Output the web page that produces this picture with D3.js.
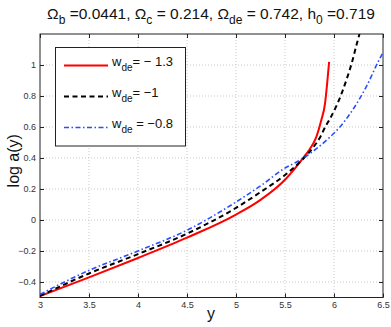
<html>
<script src="https://d3js.org/d3.v7.min.js"></script>
<body style="margin:0;background:#fff">
<svg id="plot"></svg>
<script>
// tick labels
var xTicks = [3, 3.5, 4, 4.5, 5, 5.5, 6, 6.5];
var yTicks = [-0.4, -0.2, 0, 0.2, 0.4, 0.6, 0.8, 1];

// w_de = -1.3
var redX = [3, 3.5, 4, 4.5, 5, 5.25, 5.5, 5.6, 5.68, 5.745, 5.82, 5.87, 5.908, 5.93, 5.95];
var redY = [-0.49, -0.37, -0.245, -0.114, 0.035, 0.13, 0.26, 0.332, 0.396, 0.45, 0.536, 0.643, 0.75, 0.88, 1.02];
// w_de = -1
var blackX = [3, 3.5, 4, 4.5, 5, 5.25, 5.5, 5.67, 5.79, 5.86, 5.91, 5.96, 6.02, 6.08, 6.13, 6.18, 6.23, 6.26];
var blackY = [-0.49, -0.345, -0.22, -0.088, 0.078, 0.18, 0.29, 0.385, 0.47, 0.536, 0.6, 0.655, 0.73, 0.82, 0.91, 1.01, 1.13, 1.2];
// w_de = -0.8
var blueX = [3, 3.5, 4, 4.5, 5, 5.25, 5.5, 5.65, 5.8, 5.95, 6.06, 6.19, 6.33, 6.45, 6.5];
var blueY = [-0.48, -0.325, -0.2, -0.066, 0.116, 0.22, 0.335, 0.385, 0.45, 0.53, 0.6, 0.71, 0.86, 1.02, 1.08];

var series = [
  {x: redX, y: redY, color: "#ff0000", dash: null, width: 2, label: "= \u2212 1.3", gap: ""},
  {x: blackX, y: blackY, color: "#000000", dash: "5,3.5", width: 2, label: "= \u22121", gap: ""},
  {x: blueX, y: blueY, color: "#2a4dff", dash: "5,2.5,1.5,2.5", width: 1.6, label: "= \u22120.8", gap: " "}
];

var screen = {width: 391, height: 327};
var margins = {top: 34, left: 40, right: 8, bottom: 30};
var graph = {width: 343, height: 263.5};

var svg = d3.select("#plot")
  .attr("width", screen.width)
  .attr("height", screen.height)
  .style("font-family", "'Liberation Sans', Arial, sans-serif");

var xScale = d3.scaleLinear().domain([3, 6.5]).range([0, graph.width]);
var yScale = d3.scaleLinear().domain([-0.5, 1.2]).range([graph.height, 0]);

var g = svg.append("g")
  .attr("transform", "translate(" + margins.left + "," + margins.top + ")");

g.append("clipPath").attr("id", "clip")
  .append("rect").attr("width", graph.width).attr("height", graph.height);

// grid
g.append("g").selectAll("line").data(xTicks.slice(1, -1)).enter().append("line")
  .attr("x1", d => xScale(d)).attr("x2", d => xScale(d))
  .attr("y1", 0).attr("y2", graph.height)
  .attr("stroke", "#bbb").attr("stroke-width", 0.8).attr("stroke-dasharray", "1,2");
g.append("g").selectAll("line").data(yTicks).enter().append("line")
  .attr("y1", d => yScale(d)).attr("y2", d => yScale(d))
  .attr("x1", 0).attr("x2", graph.width)
  .attr("stroke", "#bbb").attr("stroke-width", 0.8).attr("stroke-dasharray", "1,2");

// axes, matlab style ticks inside on all sides
var axisStyle = function(sel) {
  sel.selectAll("path").remove();
  sel.selectAll("line").attr("stroke", "#222");
  sel.selectAll("text").attr("fill", "#333").style("font-size", "9px");
};
g.append("g").attr("transform", "translate(0," + graph.height + ")")
  .call(d3.axisBottom(xScale).tickValues(xTicks).tickSizeInner(-4).tickPadding(4).tickFormat(d3.format("")))
  .call(axisStyle);
g.append("g")
  .call(d3.axisLeft(yScale).tickValues(yTicks).tickSizeInner(-4).tickPadding(4)
    .tickFormat(d => d < 0 ? "\u2212" + Math.abs(d) : d))
  .call(axisStyle);
g.append("g")
  .call(d3.axisTop(xScale).tickValues(xTicks).tickSizeInner(-4).tickFormat(""))
  .call(axisStyle);
g.append("g").attr("transform", "translate(" + graph.width + ",0)")
  .call(d3.axisRight(yScale).tickValues(yTicks).tickSizeInner(-4).tickFormat(""))
  .call(axisStyle);

g.append("rect").attr("width", graph.width).attr("height", graph.height)
  .attr("fill", "none").attr("stroke", "#222").attr("stroke-width", 1);

// lines
var line = d3.line()
  .x(d => xScale(d[0])).y(d => yScale(d[1]))
  .curve(d3.curveMonotoneX);

series.forEach(function(s) {
  g.append("path")
    .datum(d3.zip(s.x, s.y))
    .attr("clip-path", "url(#clip)")
    .attr("d", line)
    .attr("fill", "none")
    .attr("stroke", s.color)
    .attr("stroke-width", s.width)
    .attr("stroke-dasharray", s.dash);
});

// legend
var leg = svg.append("g");
leg.append("rect")
  .attr("x", 55.5).attr("y", 47.5).attr("width", 130).attr("height", 98.5)
  .attr("fill", "#fff").attr("stroke", "#222").attr("stroke-width", 1);
series.forEach(function(s, i) {
  var y = 65.5 + i * 31;
  leg.append("line")
    .attr("x1", 64).attr("x2", 108).attr("y1", y).attr("y2", y)
    .attr("stroke", s.color).attr("stroke-width", s.width)
    .attr("stroke-dasharray", s.dash);
  var t = leg.append("text").attr("x", 112).attr("y", y + 0.5)
    .style("font-size", "13px").attr("fill", "#111");
  t.append("tspan").text("w");
  t.append("tspan").attr("dy", 5).style("font-size", "10px").text("de");
  t.append("tspan").attr("dy", -5).text(s.gap + s.label);
});

// title
var title = svg.append("text").attr("x", 211).attr("y", 19)
  .attr("text-anchor", "middle").style("font-size", "15.5px").attr("fill", "#111");
[["\u03A9", "b", " =0.0441, "], ["\u03A9", "c", " = 0.214, "], ["\u03A9", "de", " = 0.742, "], ["h", "0", " =0.719"]]
  .forEach(function(p) {
    title.append("tspan").text(p[0]);
    title.append("tspan").attr("dy", 5).style("font-size", "12px").text(p[1]);
    title.append("tspan").attr("dy", -5).text(p[2]);
  });

// axis labels
svg.append("text").attr("x", 211).attr("y", 319)
  .attr("text-anchor", "middle").style("font-size", "16px").attr("fill", "#111").text("y");
svg.append("text")
  .attr("transform", "translate(19," + (margins.top + graph.height / 2 - 5) + ") rotate(-90)")
  .attr("text-anchor", "middle").style("font-size", "16px").attr("fill", "#111").text("log a(y)");
</script>
</body>
</html>
